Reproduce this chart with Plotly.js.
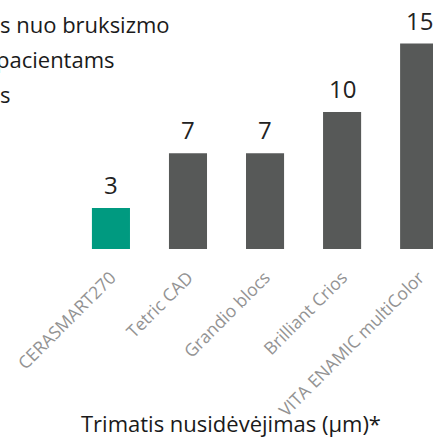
<!DOCTYPE html>
<html>
<head>
<meta charset="utf-8">
<script src="https://cdn.plot.ly/plotly-3.0.1.min.js"></script>
<style>html,body{margin:0;padding:0;overflow:hidden;background:#fff;}</style>
</head>
<body>
<div id="chart" style="width:433px;height:439px;"></div>
<script>
const categories = ["CERASMART270", "Tetric CAD", "Grandio blocs", "Brilliant Crios", "VITA ENAMIC multiColor"];
const wearValues = [3, 7, 7, 10, 15];
const barColors = ["#009a80", "#575958", "#575958", "#575958", "#575958"];
const titleLines = ["s nuo bruksizmo", "pacientams", "s"];
const axisTitle = "Trimatis nusidėvėjimas (µm)*";

const FONT = "'Open Sans', sans-serif";

const valueAnnotations = categories.map((c, i) => ({
  x: c, y: wearValues[i], xref: "x", yref: "y",
  text: String(wearValues[i]), showarrow: false,
  yanchor: "bottom", yshift: 5,
  font: {family: FONT, size: 24, color: "#222222"}
}));

const titleShifts = [0, -4, 0];
const titleAnn = titleLines.map((t, i) => ({
  x: 0, xref: "paper", xanchor: "left", xshift: titleShifts[i] - 2,
  y: 1, yref: "paper", yanchor: "top", yshift: -i * 35 - 7,
  text: t, showarrow: false, align: "left",
  font: {family: FONT, size: 22, color: "#1a1a1a"}
}));

const data = [{
  type: "bar",
  x: categories,
  y: wearValues,
  marker: {color: barColors},
  hoverinfo: "none"
}];

const layout = {
  width: 433, height: 439,
  margin: {l: 0, r: 0, t: 0, b: 190, pad: 0},
  paper_bgcolor: "#ffffff", plot_bgcolor: "#ffffff",
  bargap: 0.506,
  showlegend: false,
  xaxis: {
    type: "category",
    range: [-1.44, 4.18],
    tickangle: -45,
    ticks: "",
    showline: false, showgrid: false, zeroline: false,
    automargin: false,
    ticklabelstandoff: 14,
    tickfont: {family: FONT, size: 17.5, color: "#939393"}
  },
  yaxis: {
    range: [0, 18.18],
    visible: false, showgrid: false, zeroline: false, fixedrange: true
  },
  annotations: [
    ...valueAnnotations,
    ...titleAnn,
    {
      x: 0.533, xref: "paper", xanchor: "center",
      y: 0, yref: "paper", yanchor: "top", yshift: -157,
      text: axisTitle, showarrow: false,
      font: {family: FONT, size: 22, color: "#1a1a1a"}
    }
  ]
};

Plotly.newPlot("chart", data, layout, {staticPlot: true, displayModeBar: false});
</script>
</body>
</html>
